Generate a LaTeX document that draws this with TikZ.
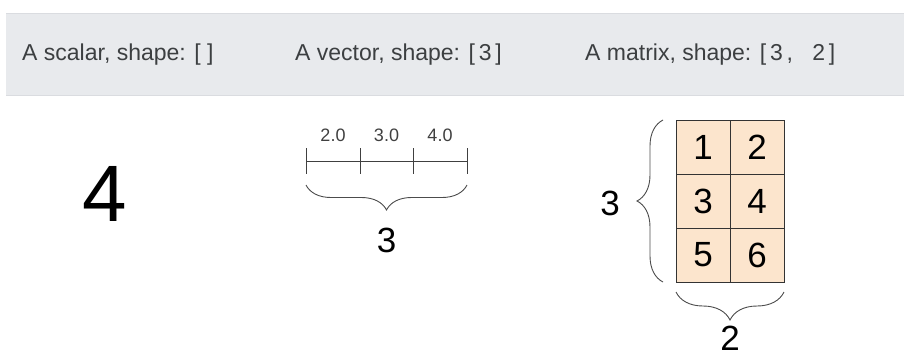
\documentclass[tikz,border=0pt]{standalone}
\usepackage{fontspec}
\setmainfont{Liberation Sans}
\usetikzlibrary{positioning,decorations.pathreplacing,calc}
\definecolor{headgray}{HTML}{E8EAED}
\definecolor{headline}{HTML}{DADCE0}
\definecolor{headtext}{HTML}{3C3F41}
\definecolor{cellpeach}{HTML}{FCE5CD}

\begin{document}
\begin{tikzpicture}[
    x=1pt, y=-1pt,
    header/.style={font=\fontsize{23}{26}\selectfont, text=headtext, anchor=west, inner sep=0pt},
    bigdigit/.style={font=\fontsize{35}{40}\selectfont, inner sep=0pt},
    ticklabel/.style={font=\fontsize{18}{20}\selectfont, text=black!75, inner sep=0pt},
    cell/.style={draw=black!80, fill=cellpeach, minimum size=54pt, inner sep=0pt, outer sep=0pt, font=\fontsize{35}{40}\selectfont},
    curly/.style={decorate, decoration={brace, amplitude=#1}, line width=0.9pt, black!70},
    curly/.default=25pt
]
\useasboundingbox (0,0) rectangle (904,360);

% Header band
\fill[headgray] (6,13) rectangle (904,95);
\draw[headline] (6,13) -- (904,13);
\draw[headline] (6,95) -- (904,95);
\node[header] (hscalar) at (22,55) {A scalar, shape: [ ]};
\node[header] (hvector) at (295,55) {A vector, shape: [\,3\,]};
\node[header] (hmatrix) at (585,55) {A matrix, shape: [\,3\,,\ \ \ 2\,]};

% Scalar
\node[inner sep=0pt, font=\fontsize{80}{90}\selectfont] (scalar) at (105,194) {4};

% Vector
\coordinate (v0) at (306,161);
\coordinate (v1) at (360,161);
\coordinate (v2) at (413,161);
\coordinate (v3) at (467,161);
\draw[line width=0.9pt, black!75] (v0) -- (v3);
\foreach \i in {0,...,3}
    \draw[line width=0.9pt, black!75] ([yshift=13pt]v\i) -- ([yshift=-13pt]v\i);
\node[ticklabel] (l0) at ($(v0)!0.5!(v1)+(0,-26)$) {2.0};
\node[ticklabel] (l1) at ($(v1)!0.5!(v2)+(0,-26)$) {3.0};
\node[ticklabel] (l2) at ($(v2)!0.5!(v3)+(0,-26)$) {4.0};
\draw[curly] ([yshift=-24pt]v3) -- ([yshift=-24pt]v0);
\node[bigdigit] (vlen) at (386.5,240) {3};

% Matrix
\node[cell] (c11) at (703,147) {1};
\node[cell, right=0pt of c11] (c12) {2};
\node[cell, below=0pt of c11] (c21) {3};
\node[cell, right=0pt of c21] (c22) {4};
\node[cell, below=0pt of c21] (c31) {5};
\node[cell, right=0pt of c31] (c32) {6};
\draw[curly=26pt] ([xshift=-13pt]c31.south west) -- ([xshift=-13pt]c11.north west);
\node[bigdigit] (rows) at (610,203) {3};
\draw[curly=28pt] ([yshift=-10pt]c32.south east) -- ([yshift=-10pt]c31.south west);
\node[bigdigit] (cols) at (730,338) {2};

\end{tikzpicture}
\end{document}
